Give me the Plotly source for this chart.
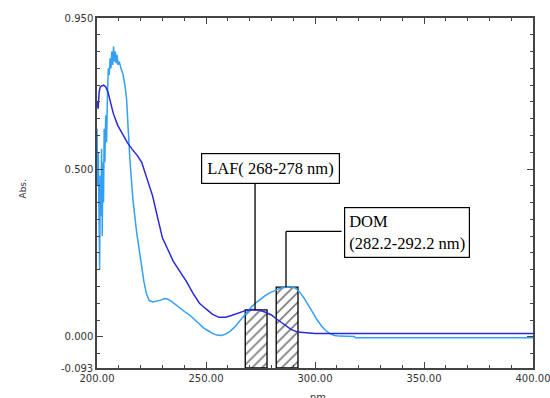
import plotly.graph_objects as go

# ---------------- data ----------------
laf_nm = [200.0, 200.5, 201.0, 201.5, 203.0, 204.0, 205.0, 206.0, 207.5, 209.5, 212.0, 214.0,
          216.0, 218.5, 220.5, 222.0, 223.5, 225.5, 228.0, 230.0, 232.5, 235.0, 238.0, 241.0,
          244.0, 247.0, 250.0, 253.0, 256.0, 259.0, 262.0, 265.0, 268.0, 271.0, 274.0, 277.0,
          280.0, 283.0, 286.0, 289.0, 292.0, 296.0, 300.0, 330.0, 400.0]
laf_abs = [0.70, 0.68, 0.73, 0.745, 0.75, 0.745, 0.73, 0.70, 0.665, 0.63, 0.60, 0.578,
           0.56, 0.54, 0.52, 0.49, 0.46, 0.42, 0.35, 0.295, 0.26, 0.225, 0.195, 0.165,
           0.13, 0.10, 0.083, 0.067, 0.058, 0.058, 0.064, 0.072, 0.078, 0.081, 0.08, 0.074,
           0.065, 0.05, 0.035, 0.022, 0.014, 0.011, 0.010, 0.010, 0.010]

dom_nm = [200.0, 200.3, 200.6, 200.9, 201.2, 201.5, 201.8, 202.1, 202.4, 202.7, 203.0, 203.3,
          203.6, 204.0, 204.4, 204.8, 205.2, 205.6, 206.0, 206.4, 206.8, 207.2, 207.6, 208.0,
          208.4, 208.8, 209.2, 209.6, 210.2, 211.0, 212.0, 213.0, 213.6, 214.3, 215.1, 216.5,
          218.2, 220.5, 221.5, 222.8, 224.0, 225.7, 227.5, 229.5, 231.0, 232.5, 234.0, 235.5,
          237.5, 239.5, 241.0, 243.0, 245.0, 247.2, 249.0, 251.0, 253.0, 255.0, 257.0, 259.0,
          261.0, 263.0, 265.0, 267.0, 269.0, 271.0, 273.0, 275.0, 277.0, 279.0, 281.0, 283.0,
          285.0, 287.0, 289.0, 291.0, 293.0, 295.0, 297.0, 299.0, 301.0, 303.0, 305.0, 307.0,
          309.0, 311.0, 318.0, 318.5, 400.0]
dom_abs = [0.62, 0.45, 0.55, 0.30, 0.20, 0.48, 0.36, 0.56, 0.30, 0.52, 0.40, 0.62,
           0.52, 0.66, 0.58, 0.72, 0.80, 0.78, 0.83, 0.80, 0.85, 0.81, 0.865, 0.82,
           0.85, 0.815, 0.84, 0.81, 0.82, 0.80, 0.78, 0.74, 0.706, 0.62, 0.527, 0.408,
           0.31, 0.21, 0.165, 0.125, 0.108, 0.104, 0.106, 0.11, 0.114, 0.112, 0.106, 0.098,
           0.087, 0.077, 0.071, 0.062, 0.05, 0.036, 0.026, 0.018, 0.01, 0.005, 0.004, 0.008,
           0.016, 0.028, 0.043, 0.06, 0.076, 0.09, 0.102, 0.113, 0.122, 0.13, 0.137, 0.142,
           0.146, 0.148, 0.149, 0.145, 0.133, 0.115, 0.095, 0.072, 0.05, 0.032, 0.018, 0.009,
           0.004, 0.002, 0.001, -0.003, -0.003]

x_ticks = [200, 250, 300, 350, 400]
x_ticktext = ["200.00", "250.00", "300.00", "350.00", "400.00"]
y_ticks = [-0.093, 0.0, 0.5, 0.95]
y_ticktext = ["-0.093", "0.000", "0.500", "0.950"]

laf_band = [268.0, 278.0]
laf_top = 0.08
dom_band = [282.2, 292.2]
dom_top = 0.148

laf_label = "LAF( 268-278 nm)"
dom_label = "DOM<br>(282.2-292.2 nm)"

Y_MIN, Y_MAX = -0.093, 0.95

# ---------------- figure ----------------
fig = go.Figure()

def band(xr, top):
    return go.Scatter(
        x=[xr[0], xr[1], xr[1], xr[0], xr[0]],
        y=[Y_MIN, Y_MIN, top, top, Y_MIN],
        mode="lines", fill="toself",
        line=dict(color="black", width=1.3),
        fillcolor="white",
        fillpattern=dict(shape="/", fgcolor="black", bgcolor="white", size=7, solidity=0.25),
        hoverinfo="skip", showlegend=False,
    )

fig.add_trace(band(laf_band, laf_top))
fig.add_trace(band(dom_band, dom_top))

fig.add_trace(go.Scatter(x=dom_nm, y=dom_abs, mode="lines",
                         line=dict(color="#33a0f5", width=1.5), showlegend=False))
fig.add_trace(go.Scatter(x=laf_nm, y=laf_abs, mode="lines",
                         line=dict(color="#2a2ad8", width=1.5), showlegend=False))

# connectors
laf_conn_x = sum(laf_band) / 2 - 0.5
laf_box_bottom = 0.459
dom_conn_x = 286.7
dom_conn_y = 0.314
dom_box_left = 312.2
fig.add_shape(type="line", x0=laf_conn_x, x1=laf_conn_x, y0=laf_top, y1=laf_box_bottom,
              line=dict(color="black", width=1.3))
fig.add_shape(type="line", x0=dom_conn_x, x1=dom_conn_x, y0=dom_top, y1=dom_conn_y,
              line=dict(color="black", width=1.3))
fig.add_shape(type="line", x0=dom_conn_x, x1=dom_box_left, y0=dom_conn_y, y1=dom_conn_y,
              line=dict(color="black", width=1.3))

serif = dict(family="Liberation Serif, Times New Roman, serif", size=16.5, color="black")
fig.add_annotation(x=279.8, y=0.503, text=laf_label, showarrow=False, font=serif,
                   bordercolor="black", borderwidth=1.2, borderpad=5, bgcolor="white",
                   xanchor="center", yanchor="middle")
fig.add_annotation(x=342.4, y=0.31, text=dom_label, showarrow=False, font=serif, align="left",
                   bordercolor="black", borderwidth=1.2, borderpad=4, bgcolor="white",
                   xanchor="center", yanchor="middle")

fig.add_annotation(xref="paper", yref="paper", x=(15 - 97) / 436, y=0.51, text="Abs.",
                   textangle=-90, showarrow=False,
                   font=dict(family="DejaVu Sans, Arial, sans-serif", size=9, color="#333"))
fig.add_annotation(xref="paper", yref="paper", x=0.507, y=-0.063, yanchor="top", text="nm",
                   showarrow=False,
                   font=dict(family="DejaVu Sans, Arial, sans-serif", size=10, color="#333"))

tickfont = dict(family="DejaVu Sans, Arial, sans-serif", size=10, color="#333")
axcol = "#444"
fig.update_xaxes(range=[200, 400], tickvals=x_ticks, ticktext=x_ticktext,
                 ticks="inside", ticklen=6, tickwidth=1.2, tickcolor=axcol,
                 minor=dict(dtick=10, tick0=200, ticks="inside", ticklen=3, tickcolor=axcol, tickwidth=1.2),
                 showline=True, linecolor=axcol, linewidth=1.5, mirror="ticks",
                 showgrid=False, zeroline=False, tickfont=tickfont, ticklabeloverflow="allow",
                 automargin=False)
fig.update_yaxes(range=[Y_MIN, Y_MAX], tickvals=y_ticks, ticktext=y_ticktext,
                 ticks="inside", ticklen=6, tickwidth=1.2, tickcolor=axcol,
                 minor=dict(dtick=0.05, tick0=0, ticks="inside", ticklen=3, tickcolor=axcol, tickwidth=1.2),
                 showline=True, linecolor=axcol, linewidth=1.5, mirror="ticks",
                 showgrid=False, zeroline=False, tickfont=tickfont, ticklabeloverflow="allow",
                 automargin=False)

fig.update_layout(width=550, height=398, margin=dict(l=97, r=17, t=18, b=30),
                  plot_bgcolor="white", paper_bgcolor="white", showlegend=False)

# remove the default page margin and scrollbars so the figure fills the window exactly
fig.write_html(
    "out.html",
    config={"displayModeBar": False},
    post_script="document.body.style.margin='0';"
                "document.documentElement.style.overflow='hidden';"
                "document.body.style.overflow='hidden';",
)
